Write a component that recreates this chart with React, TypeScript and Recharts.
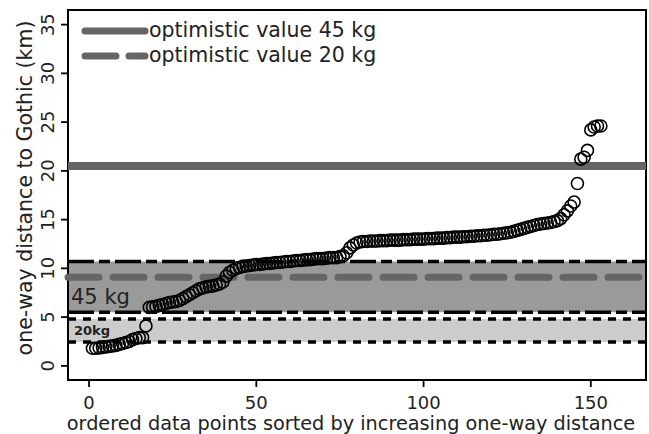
import React from 'react';
import {
  ScatterChart,
  Scatter,
  XAxis,
  YAxis,
  ReferenceArea,
  ReferenceLine,
  Legend,
} from 'recharts';

// one-way distance (km), already sorted ascending
const distances = [
  1.8, 1.8, 1.85, 1.9, 1.95, 2.0, 2.05, 2.1, 2.2, 2.3, 2.4, 2.5, 2.7, 2.8, 2.9, 2.9,
  4.1, 6.0, 6.05, 6.1, 6.2, 6.3, 6.4, 6.5, 6.55, 6.6, 6.7, 6.9, 7.1, 7.3, 7.5, 7.7,
  7.9, 8.0, 8.1, 8.15, 8.2, 8.3, 8.4, 8.6, 9.2, 9.6, 9.8, 10.0, 10.1, 10.2, 10.25, 10.3,
  10.35, 10.4, 10.4, 10.45, 10.5, 10.5, 10.55, 10.6, 10.6, 10.65, 10.7, 10.7, 10.75, 10.8,
  10.8, 10.85, 10.9, 10.9, 10.95, 11.0, 11.0, 11.0, 11.05, 11.1, 11.1, 11.1, 11.2, 11.3,
  11.6, 12.1, 12.4, 12.6, 12.7, 12.75, 12.75, 12.8, 12.8, 12.8, 12.85, 12.85, 12.85, 12.9,
  12.9, 12.9, 12.9, 12.95, 12.95, 12.95, 13.0, 13.0, 13.0, 13.0, 13.05, 13.05, 13.05, 13.1,
  13.1, 13.1, 13.15, 13.15, 13.2, 13.2, 13.2, 13.25, 13.25, 13.3, 13.3, 13.35, 13.35, 13.4,
  13.4, 13.45, 13.5, 13.5, 13.55, 13.6, 13.65, 13.7, 13.8, 13.9, 14.0, 14.1, 14.2, 14.3,
  14.4, 14.5, 14.55, 14.6, 14.65, 14.7, 14.8, 14.9, 15.1, 15.5, 15.9, 16.4, 16.8, 18.7,
  21.2, 21.4, 22.1, 24.2, 24.5, 24.6, 24.6,
];

const xTicks = [0, 50, 100, 150];
const yTicks = [0, 5, 10, 15, 20, 25, 30, 35];

const band45 = [5.5, 10.7];
const band20 = [2.45, 4.8];
const optimistic45 = 20.5;
const optimistic20 = 9.1;

const legendItems = ['optimistic value 45 kg', 'optimistic value 20 kg'];

const X_DOMAIN: [number, number] = [-6.3, 166.5];
const Y_DOMAIN: [number, number] = [-1.45, 36.5];

const FONT = '"DejaVu Sans", sans-serif';
const TEXT = '#222';

const points = distances.map((d, k) => ({ rank: k + 1, km: d }));

const Ring = (props: any) => (
  <circle cx={props.cx} cy={props.cy} r={6} fill="none" stroke="#000" strokeWidth={1.6} />
);

const YTick = (props: any) => {
  const { x, y, payload } = props;
  return (
    <text
      transform={`translate(${x - 5},${y}) rotate(-90)`}
      textAnchor="middle"
      fontSize={18}
      fontFamily={FONT}
      fill={TEXT}
    >
      {payload.value}
    </text>
  );
};

const XTick = (props: any) => {
  const { x, y, payload } = props;
  return (
    <text x={x} y={y + 20} textAnchor="middle" fontSize={18} fontFamily={FONT} fill={TEXT}>
      {payload.value}
    </text>
  );
};

const LegendBox = () => (
  <div style={{ fontFamily: FONT, fontSize: 20.5, color: TEXT, lineHeight: '25px' }}>
    {legendItems.map((label, k) => (
      <div key={label} style={{ display: 'flex', alignItems: 'center', height: 25 }}>
        <svg width={68} height={12} style={{ flex: 'none' }}>
          <line
            x1={4}
            y1={6}
            x2={64}
            y2={6}
            stroke="#666"
            strokeWidth={7}
            strokeLinecap="round"
            strokeDasharray={k === 0 ? undefined : '31 13'}
          />
        </svg>
        <span style={{ whiteSpace: 'nowrap' }}>{label}</span>
      </div>
    ))}
  </div>
);

export default function App() {
  return (
    <div style={{ position: 'absolute', left: 0, top: 0, background: '#fff' }}>
      <ScatterChart width={649} height={434} margin={{ top: 10, right: 3, bottom: 0, left: 0 }}>
        <XAxis
          type="number"
          dataKey="rank"
          domain={X_DOMAIN}
          ticks={xTicks}
          allowDataOverflow
          height={54}
          tickSize={7}
          axisLine={false}
          tickLine={{ stroke: '#000', strokeWidth: 1.8 }}
          tick={<XTick />}
          label={{
            content: () => (
              <text x={351} y={430} textAnchor="middle" fontSize={19.3} fontFamily={FONT} fill={TEXT}>
                ordered data points sorted by increasing one-way distance
              </text>
            ),
          }}
        />
        <YAxis
          type="number"
          dataKey="km"
          domain={Y_DOMAIN}
          ticks={yTicks}
          allowDataOverflow
          width={68}
          tickSize={7}
          axisLine={false}
          tickLine={{ stroke: '#000', strokeWidth: 1.8 }}
          tick={<YTick />}
          label={{
            content: () => (
              <text
                transform="translate(32,188) rotate(-90)"
                textAnchor="middle"
                fontSize={20.5}
                fontFamily={FONT}
                fill={TEXT}
              >
                one-way distance to Gothic (km)
              </text>
            ),
          }}
        />
        <ReferenceArea
          y1={band45[0]}
          y2={band45[1]}
          x1={X_DOMAIN[0]}
          x2={X_DOMAIN[1]}
          fill="#9a9a9a"
          fillOpacity={1}
          stroke="none"
          label={{
            content: (p: any) => (
              <text
                x={p.viewBox.x + 3}
                y={p.viewBox.y + p.viewBox.height - 8}
                fontSize={21}
                fontFamily={FONT}
                fill={TEXT}
              >
                45 kg
              </text>
            ),
          }}
        />
        <ReferenceArea
          y1={band20[0]}
          y2={band20[1]}
          x1={X_DOMAIN[0]}
          x2={X_DOMAIN[1]}
          fill="#cccccc"
          fillOpacity={1}
          stroke="none"
          label={{
            content: (p: any) => (
              <text
                x={p.viewBox.x + 6}
                y={p.viewBox.y + p.viewBox.height - 7}
                fontSize={13}
                fontWeight="bold"
                fontFamily={FONT}
                fill={TEXT}
              >
                20kg
              </text>
            ),
          }}
        />
        <ReferenceLine y={band45[1]} stroke="#000" strokeWidth={3.4} strokeDasharray="26 5 11 5" />
        <ReferenceLine y={band45[0]} stroke="#000" strokeWidth={3.4} strokeDasharray="26 5 11 5" />
        <ReferenceLine y={band20[1]} stroke="#000" strokeWidth={3.6} strokeDasharray="8 7" />
        <ReferenceLine y={band20[0]} stroke="#000" strokeWidth={3.6} strokeDasharray="8 7" />
        <ReferenceLine
          y={optimistic20}
          stroke="#666"
          strokeWidth={7}
          strokeLinecap="round"
          strokeDasharray="31 14"
        />
        <ReferenceLine y={optimistic45} stroke="#666" strokeWidth={8} />
        <Scatter data={points} shape={<Ring />} isAnimationActive={false} />
        <ReferenceArea
          x1={X_DOMAIN[0]}
          x2={X_DOMAIN[1]}
          y1={Y_DOMAIN[0]}
          y2={Y_DOMAIN[1]}
          fill="none"
          stroke="#000"
          strokeWidth={2}
          ifOverflow="visible"
        />
        <Legend
          layout="vertical"
          align="center"
          verticalAlign="middle"
          content={() => <LegendBox />}
          wrapperStyle={{ left: 81, top: 18, width: 400 }}
        />
      </ScatterChart>
    </div>
  );
}
